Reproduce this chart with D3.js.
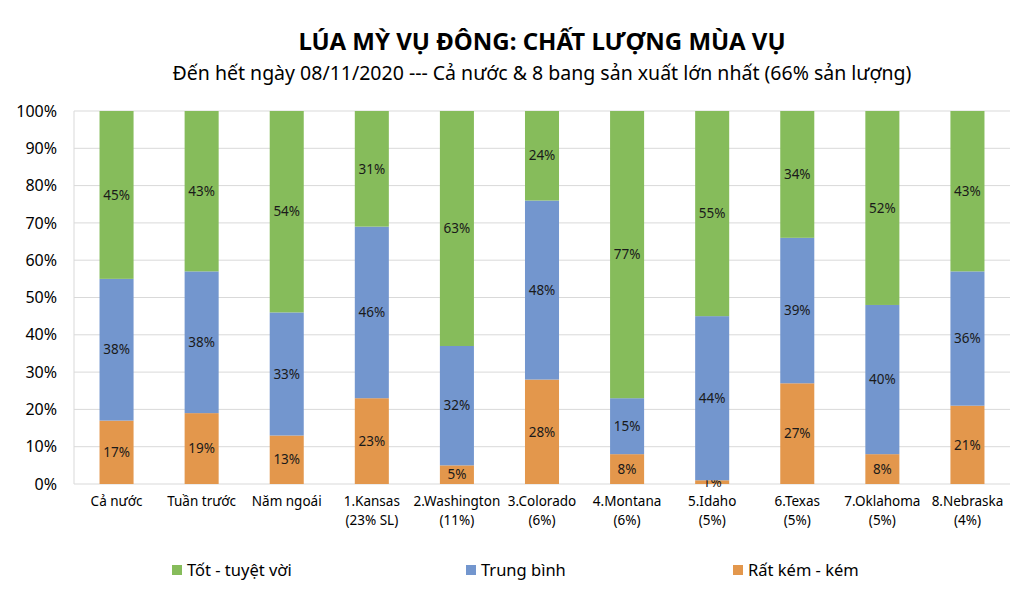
<!DOCTYPE html>
<html lang="vi">
<head>
<meta charset="UTF-8">
<script src="https://d3js.org/d3.v7.min.js"></script>
<title>Lúa mỳ vụ đông</title>
<style>
  body { margin: 0; background: #fff; }
  text { font-family: "Noto Sans", "Open Sans", sans-serif; fill: #000; }
</style>
</head>
<body>
<svg id="chart" width="1024" height="598"></svg>
<script>
// categories (second line of each label after "|")
const categories = ["Cả nước", "Tuần trước", "Năm ngoái", "1.Kansas|(23% SL)", "2.Washington|(11%)",
  "3.Colorado|(6%)", "4.Montana|(6%)", "5.Idaho|(5%)", "6.Texas|(5%)", "7.Oklahoma|(5%)", "8.Nebraska|(4%)"];

// series values in %
const poor    = [17, 19, 13, 23, 5, 28, 8, 1, 27, 8, 21];
const average = [38, 38, 33, 46, 32, 48, 15, 44, 39, 40, 36];
const good    = [45, 43, 54, 31, 63, 24, 77, 55, 34, 52, 43];

const seriesNames = ["Rất kém - kém", "Trung bình", "Tốt - tuyệt vời"];
const seriesColors = ["#e3974c", "#7396ce", "#86bc5b"];
const yTicks = [0, 10, 20, 30, 40, 50, 60, 70, 80, 90, 100];

const svg = d3.select("#chart");
const margin = {top: 111, right: 14, bottom: 114, left: 74};
const W = 1024, H = 598;

const rows = categories.map((c, i) => ({cat: c, poor: poor[i], average: average[i], good: good[i]}));
const stack = d3.stack().keys(["poor", "average", "good"])(rows);

const x = d3.scaleBand().domain(categories).range([margin.left, W - margin.right]).paddingInner(0.6).paddingOuter(0.3);
const y = d3.scaleLinear().domain([0, 100]).range([H - margin.bottom, margin.top]);

// gridlines
svg.append("g")
  .selectAll("line")
  .data(yTicks)
  .join("line")
  .attr("x1", margin.left).attr("x2", W - margin.right)
  .attr("y1", d => y(d)).attr("y2", d => y(d))
  .attr("stroke", "#d9d9d9").attr("stroke-width", 1);

svg.append("line")
  .attr("x1", margin.left).attr("x2", margin.left)
  .attr("y1", y(100)).attr("y2", y(0))
  .attr("stroke", "#d9d9d9");

// y axis labels
svg.append("g")
  .selectAll("text")
  .data(yTicks)
  .join("text")
  .attr("x", margin.left - 17)
  .attr("y", d => y(d))
  .attr("dy", "0.35em")
  .attr("text-anchor", "end")
  .attr("font-size", 16)
  .text(d => d + "%");

// bars
const layers = svg.append("g").selectAll("g")
  .data(stack)
  .join("g")
  .attr("fill", (d, i) => seriesColors[i]);

layers.selectAll("rect")
  .data(d => d)
  .join("rect")
  .attr("x", d => x(d.data.cat))
  .attr("width", x.bandwidth())
  .attr("y", d => y(d[1]))
  .attr("height", d => y(d[0]) - y(d[1]));

// data labels
layers.selectAll("text")
  .data(d => d)
  .join("text")
  .attr("x", d => x(d.data.cat) + x.bandwidth() / 2)
  .attr("y", d => (y(d[0]) + y(d[1])) / 2)
  .attr("dy", "0.35em")
  .attr("text-anchor", "middle")
  .attr("font-size", 13.5)
  .style("fill", "#1a1a1a")
  .text(d => (d[1] - d[0]) + "%");

// x labels
const xl = svg.append("g").selectAll("text")
  .data(categories)
  .join("text")
  .attr("x", d => x(d) + x.bandwidth() / 2)
  .attr("y", y(0) + 22)
  .attr("text-anchor", "middle")
  .attr("font-size", 13.5);
xl.selectAll("tspan")
  .data(d => d.split("|"))
  .join("tspan")
  .attr("x", function() { return this.parentNode.getAttribute("x"); })
  .attr("dy", (d, i) => i ? 19 : 0)
  .text(d => d);

// title
const cx = (margin.left + W - margin.right) / 2;
svg.append("text")
  .attr("x", cx).attr("y", 50)
  .attr("text-anchor", "middle")
  .attr("font-size", 24).attr("font-weight", "bold")
  .text("LÚA MỲ VỤ ĐÔNG: CHẤT LƯỢNG MÙA VỤ");
svg.append("text")
  .attr("x", cx).attr("y", 80)
  .attr("text-anchor", "middle")
  .attr("font-size", 19.5)
  .text("Đến hết ngày 08/11/2020 --- Cả nước & 8 bang sản xuất lớn nhất (66% sản lượng)");

// legend
const legendItems = [
  {name: seriesNames[2], color: seriesColors[2], x: 172},
  {name: seriesNames[1], color: seriesColors[1], x: 466},
  {name: seriesNames[0], color: seriesColors[0], x: 733}
];
const lg = svg.append("g").selectAll("g")
  .data(legendItems)
  .join("g")
  .attr("transform", d => `translate(${d.x},570)`);
lg.append("rect").attr("x", 0).attr("y", -5).attr("width", 10).attr("height", 10).attr("fill", d => d.color);
lg.append("text").attr("x", 15).attr("dy", "0.35em").attr("font-size", 16.5).text(d => d.name);
</script>
</body>
</html>
